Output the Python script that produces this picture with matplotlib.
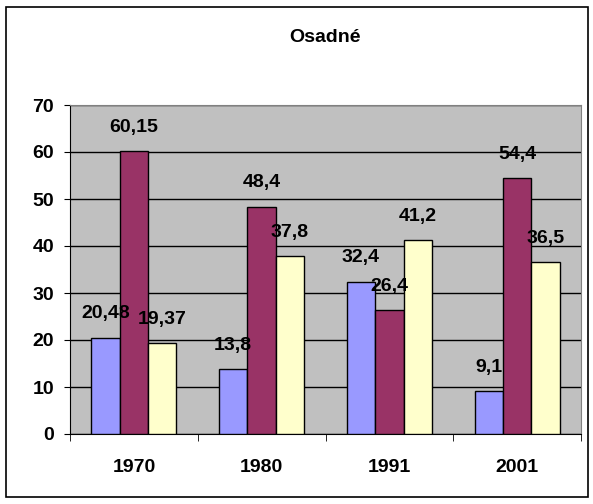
import numpy as np
import matplotlib
matplotlib.use("Agg")
import matplotlib.pyplot as plt
from matplotlib.patches import Rectangle

plt.rcParams['font.family'] = ['Liberation Sans', 'DejaVu Sans']
plt.rcParams['font.weight'] = 'bold'

years = ['1970', '1980', '1991', '2001']
series_a = [20.48, 13.8, 32.4, 9.1]
series_b = [60.15, 48.4, 26.4, 54.4]
series_c = [19.37, 37.8, 41.2, 36.5]
colors = ['#9999FF', '#993366', '#FFFFCC']

fig = plt.figure(figsize=(5.93, 5.04), dpi=100)
fig.patches.append(Rectangle((6/593, 7/504), 582/593, 490/504, transform=fig.transFigure,
                             fill=False, edgecolor='black', linewidth=1.2))

ax = fig.add_axes([70/593, 1 - 434/504, 511/593, 329/504])
ax.set_facecolor('#C0C0C0')

x = np.arange(len(years))
w = 1 / 4.5
for i, (vals, c) in enumerate(zip([series_a, series_b, series_c], colors)):
    bars = ax.bar(x + (i - 1) * w, vals, w, color=c, edgecolor='black', linewidth=1, zorder=3)
    for b, v in zip(bars, vals):
        ax.annotate(('%g' % v).replace('.', ','), (b.get_x() + b.get_width() / 2, v),
                    xytext=(0, 11), textcoords='offset points', ha='center', va='bottom',
                    fontsize=14, fontweight='bold', zorder=4)

ax.set_xlim(-0.5, 3.5)
ax.set_ylim(0, 70)
ax.set_yticks(range(0, 71, 10))
ax.yaxis.grid(True, color='black', linewidth=1)
ax.set_axisbelow(True)
ax.set_xticks(x)
ax.set_xticklabels(years)
ax.set_xticks(np.arange(-0.5, 4, 1), minor=True)
ax.tick_params(axis='x', which='major', length=0, pad=18, labelsize=14)
ax.tick_params(axis='x', which='minor', length=5, direction='out')
ax.tick_params(axis='y', length=4.5, labelsize=14, pad=7)
for s in ['top', 'right']:
    ax.spines[s].set_color('#808080')
ax.set_title('Osadné', fontsize=14, fontweight='bold', pad=45)

fig.savefig('out.png', dpi=100)
